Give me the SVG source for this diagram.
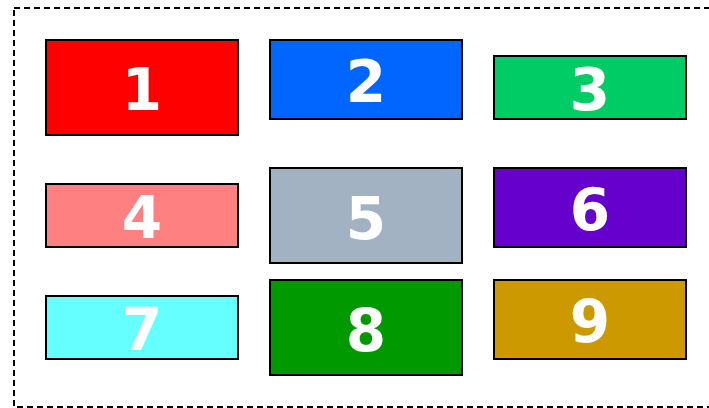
<svg xmlns="http://www.w3.org/2000/svg" width="709" height="408" viewBox="0 0 709 408">
<style>
.frame{fill:none;stroke:#000;stroke-width:2;stroke-dasharray:6 4}
.box rect{stroke:#000;stroke-width:2}
.box text{fill:#fff;font-family:"DejaVu Sans",sans-serif;font-weight:bold;font-size:58px;text-anchor:middle}
</style>
<rect class="frame" x="14" y="8" width="710" height="399"/>
<g id="node1" class="box"><rect x="46" y="40" width="192" height="95" fill="#ff0000"/><text x="142" y="110">1</text></g>
<g id="node2" class="box"><rect x="270" y="40" width="192" height="79" fill="#0066ff"/><text x="366" y="102">2</text></g>
<g id="node3" class="box"><rect x="494" y="56" width="192" height="63" fill="#00cc66"/><text x="590" y="110">3</text></g>
<g id="node4" class="box"><rect x="46" y="184" width="192" height="63" fill="#ff8080"/><text x="142" y="238">4</text></g>
<g id="node5" class="box"><rect x="270" y="168" width="192" height="95" fill="#a2b2c2"/><text x="366" y="239">5</text></g>
<g id="node6" class="box"><rect x="494" y="168" width="192" height="79" fill="#6600cc"/><text x="590" y="230">6</text></g>
<g id="node7" class="box"><rect x="46" y="296" width="192" height="63" fill="#66ffff"/><text x="142" y="350">7</text></g>
<g id="node8" class="box"><rect x="270" y="280" width="192" height="95" fill="#009900"/><text x="366" y="351">8</text></g>
<g id="node9" class="box"><rect x="494" y="280" width="192" height="79" fill="#cc9900"/><text x="590" y="342">9</text></g>
<g id="connectors"/>
</svg>
